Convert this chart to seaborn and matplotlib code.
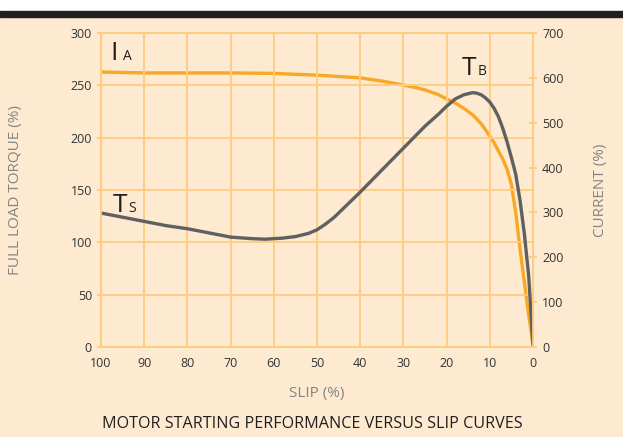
import matplotlib
matplotlib.use("Agg")
import matplotlib.pyplot as plt
import pandas as pd
import seaborn as sns

sns.set_style("white")
plt.rcParams["font.family"] = ["Open Sans", "DejaVu Sans"]

# slip (%) vs full load torque (%)
torque_slip = [100, 90, 85, 80, 75, 70, 65, 62, 58, 55, 52, 50, 48, 46, 44, 42, 40, 35, 30, 25,
               22, 20, 18, 16, 14, 13, 12, 11, 10, 9, 8, 7, 6, 5, 4, 3, 2, 1, 0]
torque_pct = [128, 120, 116, 113, 109, 105, 103.5, 103, 104, 105.5, 108.5, 112, 117.5, 124, 132,
              140, 148, 169, 190, 211, 222, 230, 237, 241, 243, 242.5, 241, 238, 234, 228, 220,
              209, 196, 181, 165, 140, 108, 68, 2]

# slip (%) vs current (%)
current_slip = [100, 90, 80, 70, 60, 50, 45, 40, 35, 30, 27, 25, 22, 20, 18, 16, 14, 12, 10,
                9, 8, 7, 6, 5, 4, 3, 2, 1, 0]
current_pct = [613, 611, 611, 611, 610, 606, 603, 600, 593, 584, 578, 573, 563, 553, 544, 532,
               518, 498, 470, 455, 437, 419, 396, 362, 300, 218, 145, 72, 5]

left_ticks = [0, 50, 100, 150, 200, 250, 300]
right_ticks = [0, 100, 200, 300, 400, 500, 600, 700]
x_ticks = [100, 90, 80, 70, 60, 50, 40, 30, 20, 10, 0]

ORANGE = "#F9A826"
GRID = "#FFCC80"
GRAY = "#5F6062"
BEIGE = "#FDEAD0"
TXT = "#333333"
LABEL = "#858585"
DARK = "#231F20"

torque_df = pd.DataFrame({"slip": torque_slip, "torque": torque_pct})
current_df = pd.DataFrame({"slip": current_slip, "current": current_pct})

fig = plt.figure(figsize=(6.23, 4.37), dpi=100)
fig.patch.set_facecolor("white")
# beige panel and black bar at the top
fig.patches.append(plt.Rectangle((0, 0), 1, (437 - 17) / 437, transform=fig.transFigure,
                                 color=BEIGE, zorder=-10))
fig.patches.append(plt.Rectangle((0, (437 - 17) / 437), 1, 6 / 437, transform=fig.transFigure,
                                 color=DARK, zorder=-10))

ax = fig.add_axes([101 / 623, 90 / 437, 432 / 623, 314 / 437])
ax2 = ax.twinx()

sns.lineplot(data=torque_df, x="slip", y="torque", ax=ax, color=GRAY, lw=2.4, sort=False)
sns.lineplot(data=current_df, x="slip", y="current", ax=ax2, color=ORANGE, lw=2.4, sort=False)

ax.set_xlim(100, 0)
ax.set_ylim(0, 300)
ax2.set_ylim(0, 700)
ax.set_xticks(x_ticks)
ax.set_yticks(left_ticks)
ax2.set_yticks(right_ticks)

for a in (ax, ax2):
    for s in a.spines.values():
        s.set_color(GRID)
        s.set_linewidth(1.3)
    a.tick_params(colors=GRID, labelcolor=TXT, labelsize=9, length=6, width=1.3,
                  direction="inout")
ax.tick_params(axis="x", pad=4)

ax.set_xlabel("SLIP (%)", color=LABEL, fontsize=11, labelpad=12)
ax.set_ylabel("FULL LOAD TORQUE (%)", color=LABEL, fontsize=11, labelpad=34)
ax2.set_ylabel("CURRENT (%)", color=LABEL, fontsize=11, labelpad=21)

# torque axis on top, current axis (white background) underneath
ax2.set_zorder(0)
ax.set_zorder(1)
ax.patch.set_visible(False)
ax2.patch.set_facecolor("white")
ax.grid(True, color=GRID, lw=1.3, zorder=0)
ax.set_axisbelow(True)

# curve labels
ax.text(97.8, 274, "I", fontsize=19, color=DARK, va="baseline")
ax.text(95.0, 274, "A", fontsize=10, color=DARK, va="baseline")
ax.text(97.3, 129, "T", fontsize=19, color=DARK, va="baseline")
ax.text(93.6, 129, "S", fontsize=10, color=DARK, va="baseline")
ax.text(16.6, 260, "T", fontsize=19, color=DARK, va="baseline")
ax.text(12.9, 260, "B", fontsize=10, color=DARK, va="baseline")

fig.text(312 / 623, 1 - 424 / 437, "MOTOR STARTING PERFORMANCE VERSUS SLIP CURVES",
         ha="center", va="center", fontsize=11.6, color=DARK)

fig.savefig("out.png", dpi=100, facecolor=fig.get_facecolor())
